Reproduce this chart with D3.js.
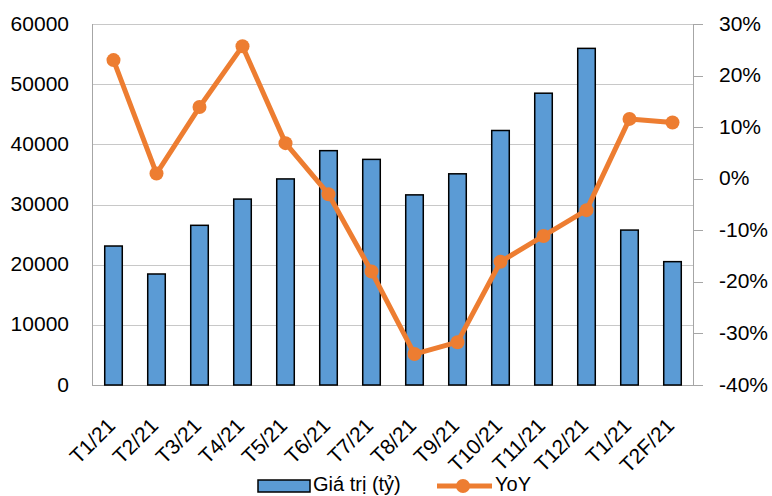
<!DOCTYPE html>
<html>
<head>
<meta charset="utf-8">
<script src="https://cdn.jsdelivr.net/npm/d3@7"></script>
<style>
  body { margin: 0; background: #fff; }
  text { font-family: "Liberation Sans", Arial, sans-serif; fill: #000; }
</style>
</head>
<body>
<svg id="chart" width="772" height="496"></svg>
<script>
// data
const months = ["T1/21", "T2/21", "T3/21", "T4/21", "T5/21", "T6/21", "T7/21",
  "T8/21", "T9/21", "T10/21", "T11/21", "T12/21", "T1/21 ", "T2F/21"];
const values = [23100, 18450, 26540, 30900, 34250, 38950, 37500,
  31600, 35100, 42300, 48500, 55950, 25750, 20500];
const yoy = [23.0, 1.0, 13.9, 25.7, 6.9, -3.0, -18.0,
  -34.0, -31.7, -16.1, -11.1, -6.1, 11.6, 10.9];
const leftTicks = [0, 10000, 20000, 30000, 40000, 50000, 60000];
const rightTicks = [-40, -30, -20, -10, 0, 10, 20, 30];

const margin = { top: 24, right: 78, bottom: 111, left: 92 };
const width = 772, height = 496;
const plotW = width - margin.left - margin.right;
const plotH = height - margin.top - margin.bottom;
const fontSize = 21;

const svg = d3.select("#chart");
const g = svg.append("g").attr("transform", `translate(${margin.left},${margin.top})`);

const x = d3.scaleBand().domain(months).range([0, plotW]).paddingInner(0).paddingOuter(0);
const y = d3.scaleLinear().domain([0, 60000]).range([plotH, 0]);
const y2 = d3.scaleLinear().domain([-40, 30]).range([plotH, 0]);

// gridlines
g.selectAll("line.grid")
  .data(leftTicks)
  .enter()
  .append("line")
  .attr("class", "grid")
  .attr("x1", 0)
  .attr("x2", plotW)
  .attr("y1", (d) => Math.round(y(d)) + 0.5)
  .attr("y2", (d) => Math.round(y(d)) + 0.5)
  .attr("stroke", "#c8c8c8")
  .attr("stroke-width", 1);

// axis lines
g.append("line")
  .attr("x1", 0.5).attr("x2", 0.5)
  .attr("y1", 0).attr("y2", plotH)
  .attr("stroke", "#a6a6a6");
g.append("line")
  .attr("x1", plotW - 0.5).attr("x2", plotW - 0.5)
  .attr("y1", 0).attr("y2", plotH + 0.5)
  .attr("stroke", "#a6a6a6");
g.append("line")
  .attr("x1", 0).attr("x2", plotW + 9)
  .attr("y1", plotH + 0.5).attr("y2", plotH + 0.5)
  .attr("stroke", "#a6a6a6");

// right axis tick marks
g.selectAll("line.rtick")
  .data(rightTicks)
  .enter()
  .append("line")
  .attr("class", "rtick")
  .attr("x1", plotW)
  .attr("x2", plotW + 9)
  .attr("y1", (d) => Math.round(y2(d)) + 0.5)
  .attr("y2", (d) => Math.round(y2(d)) + 0.5)
  .attr("stroke", "#a6a6a6");

// left labels
g.selectAll("text.ylab")
  .data(leftTicks)
  .enter()
  .append("text")
  .attr("class", "ylab")
  .attr("x", -23)
  .attr("y", (d) => y(d) + 1)
  .attr("text-anchor", "end")
  .attr("dominant-baseline", "middle")
  .style("font-size", fontSize + "px")
  .text((d) => d);

// right labels
g.selectAll("text.y2lab")
  .data(rightTicks)
  .enter()
  .append("text")
  .attr("class", "y2lab")
  .attr("x", plotW + 25)
  .attr("y", (d) => y2(d) + 1)
  .attr("text-anchor", "start")
  .attr("dominant-baseline", "middle")
  .style("font-size", fontSize + "px")
  .text((d) => d + "%");

// x labels
g.selectAll("text.xlab")
  .data(months)
  .enter()
  .append("text")
  .attr("class", "xlab")
  .attr("text-anchor", "end")
  .attr("transform", (d) => `translate(${x(d) + x.bandwidth() / 2 + 3},${plotH + 42}) rotate(-45)`)
  .style("font-size", fontSize + "px")
  .text((d) => d.trim());

// bars
const barW = x.bandwidth() / 2.45;
g.selectAll("rect.bar")
  .data(values)
  .enter()
  .append("rect")
  .attr("class", "bar")
  .attr("x", (d, i) => x(months[i]) + (x.bandwidth() - barW) / 2)
  .attr("y", (d) => y(d))
  .attr("width", barW)
  .attr("height", (d) => plotH - y(d))
  .attr("fill", "#5b9bd5")
  .attr("stroke", "#000")
  .attr("stroke-width", 1.5);

// yoy line
const line = d3.line()
  .x((d, i) => x(months[i]) + x.bandwidth() / 2)
  .y((d) => y2(d));
g.append("path")
  .datum(yoy)
  .attr("d", line)
  .attr("fill", "none")
  .attr("stroke", "#ed7d31")
  .attr("stroke-width", 5)
  .attr("stroke-linejoin", "round");
g.selectAll("circle.pt")
  .data(yoy)
  .enter()
  .append("circle")
  .attr("class", "pt")
  .attr("cx", (d, i) => x(months[i]) + x.bandwidth() / 2)
  .attr("cy", (d) => y2(d))
  .attr("r", 7)
  .attr("fill", "#ed7d31");

// legend
const legend = svg.append("g").attr("transform", "translate(258,486)");
legend.append("rect")
  .attr("x", 0).attr("y", -6)
  .attr("width", 52).attr("height", 12)
  .attr("fill", "#5b9bd5")
  .attr("stroke", "#000")
  .attr("stroke-width", 1.5);
legend.append("text")
  .attr("x", 55).attr("y", 0)
  .attr("dominant-baseline", "middle")
  .style("font-size", "20px")
  .text("Giá trị (tỷ)");
legend.append("line")
  .attr("x1", 179).attr("x2", 234)
  .attr("y1", 0).attr("y2", 0)
  .attr("stroke", "#ed7d31")
  .attr("stroke-width", 5);
legend.append("circle")
  .attr("cx", 205).attr("cy", 0).attr("r", 7)
  .attr("fill", "#ed7d31");
legend.append("text")
  .attr("x", 237).attr("y", 0)
  .attr("dominant-baseline", "middle")
  .style("font-size", "20px")
  .text("YoY");
</script>
</body>
</html>
